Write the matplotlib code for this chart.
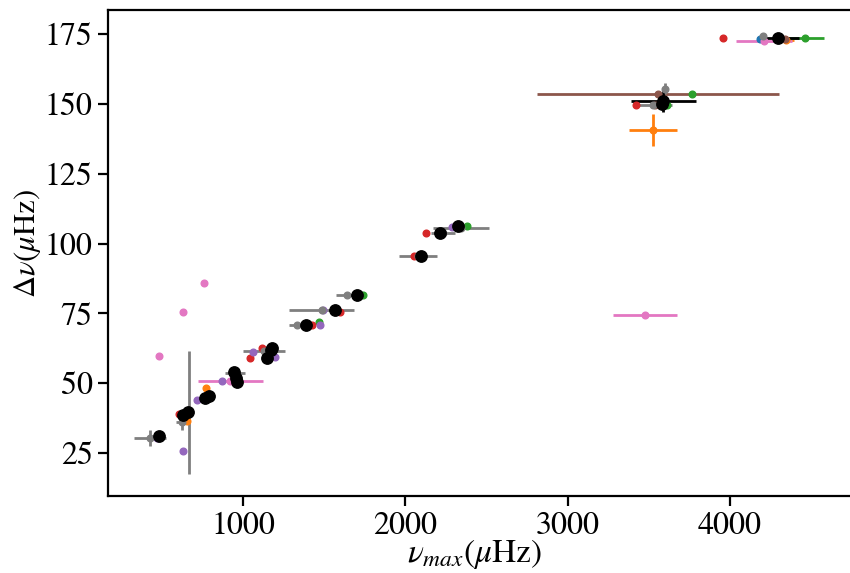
import numpy as np
import matplotlib
matplotlib.use('Agg')
import matplotlib.pyplot as plt

plt.rcParams['font.family'] = 'STIXGeneral'
plt.rcParams['mathtext.fontset'] = 'stix'

# one series per method: nu_max, delta_nu, and their errors (0 = no bar)
c0_x = [4185]
c0_y = [173.2]
c0_xe = [0]
c0_ye = [0]

c1_x = [655, 772, 3526, 4346]
c1_y = [36.4, 48.2, 140.7, 173.0]
c1_xe = [0, 0, 145, 50]
c1_ye = [0, 0, 5.7, 0]

c2_x = [1468, 1739, 2380, 3766, 3610, 4462]
c2_y = [71.8, 81.4, 106.4, 153.6, 149.6, 173.6]
c2_xe = [0, 0, 0, 0, 0, 120]
c2_ye = [0, 0, 0, 0, 0, 0]

c3_x = [605, 1043, 1117, 1425, 1597, 2053, 2127, 3421, 3957]
c3_y = [38.9, 59.0, 62.5, 70.7, 75.4, 95.7, 103.6, 149.6, 173.6]
c3_xe = [0, 0, 0, 0, 0, 0, 0, 0, 0]
c3_ye = [0, 0, 0, 0, 0, 0, 0, 0, 0]

c4_x = [470, 630, 716, 870, 1061, 1197, 1474, 1493, 2287]
c4_y = [30.4, 25.7, 43.9, 50.7, 61.0, 59.3, 70.7, 76.1, 106.0]
c4_xe = [0, 0, 0, 0, 0, 0, 0, 0, 0]
c4_ye = [0, 0, 0, 0, 0, 0, 0, 0, 0]

c5_x = [3557, 3540, 4339]
c5_y = [153.6, 149.6, 173.2]
c5_xe = [745, 0, 0]
c5_ye = [0, 0, 0]

c6_x = [482, 630, 760, 920, 3477, 4210]
c6_y = [59.6, 75.4, 85.7, 50.7, 74.3, 172.4]
c6_xe = [0, 0, 0, 200, 197, 170]
c6_ye = [0, 0, 0, 0, 0, 0]

c7_x = [427, 667, 624, 951, 1130, 1333, 1486, 1640, 2078, 2232, 2343, 3600, 3526, 4203]
c7_y = [30.4, 39.6, 36.1, 53.5, 61.4, 70.7, 76.1, 81.4, 95.4, 103.6, 105.4, 155.4, 149.6, 174.3]
c7_xe = [100, 0, 40, 60, 130, 50, 200, 70, 115, 75, 175, 0, 120, 0]
c7_ye = [3, 22, 3, 0, 0, 0, 0, 0, 0, 0, 0, 2, 0, 0]

bk_x = [482, 630, 661, 765, 790, 944, 957, 963, 1178, 1148, 1172, 1388, 1567, 1702,
        2097, 2214, 2325, 3588, 3581, 4296]
bk_y = [31.1, 38.6, 39.6, 44.6, 45.4, 53.9, 51.8, 50.4, 62.5, 58.9, 61.8, 70.7, 76.1, 81.4,
        95.4, 103.6, 106.4, 151.0, 150.0, 173.6]
bk_xe = [0] * 17 + [200, 0, 130]
bk_ye = [0] * 17 + [4, 0, 0]

series = [
    (c0_x, c0_y, c0_xe, c0_ye, 'C0'),
    (c1_x, c1_y, c1_xe, c1_ye, 'C1'),
    (c2_x, c2_y, c2_xe, c2_ye, 'C2'),
    (c3_x, c3_y, c3_xe, c3_ye, 'C3'),
    (c4_x, c4_y, c4_xe, c4_ye, 'C4'),
    (c5_x, c5_y, c5_xe, c5_ye, 'C5'),
    (c6_x, c6_y, c6_xe, c6_ye, 'C6'),
    (c7_x, c7_y, c7_xe, c7_ye, 'C7'),
]

fig = plt.figure(figsize=(8.5, 5.73), dpi=100)
# the original figure is cut off on the right, so the axes run past the edge
ax = fig.add_axes([108 / 850, 77 / 573, 760 / 850, 486 / 573])

for x, y, xe, ye, col in series:
    ax.errorbar(x, y, xerr=xe, yerr=ye, fmt='o', color=col, ms=4.8,
                elinewidth=2, capsize=0)

ax.errorbar(bk_x, bk_y, xerr=bk_xe, yerr=bk_ye, fmt='o', color='black', ms=8.2,
            elinewidth=2, capsize=0)

ax.set_xlim(168, 168 + 760 / 0.1623)
ax.set_ylim(9.6, 183.6)
ax.set_xticks([1000, 2000, 3000, 4000])
ax.set_yticks([25, 50, 75, 100, 125, 150, 175])

ax.set_xlabel(r'$\nu_{max}(\mu$Hz$)$', fontsize=24, labelpad=0)
ax.xaxis.set_label_coords(0.483, -0.085)
ax.set_ylabel(r'$\Delta\nu(\mu$Hz$)$', fontsize=22)
ax.yaxis.set_label_coords(-0.085, 0.52)
ax.tick_params(labelsize=23, length=7.5, width=1.6)
for s in ax.spines.values():
    s.set_linewidth(1.6)

fig.savefig('out.png', dpi=100)
